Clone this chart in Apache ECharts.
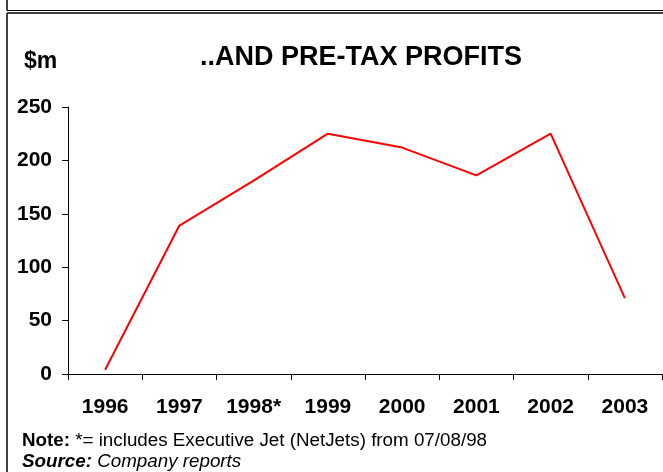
<!DOCTYPE html>
<html lang="en">
<head>
    <meta charset="UTF-8">
    <title>pre-tax profits</title>
    <script type="text/javascript" src="https://cdn.jsdelivr.net/npm/echarts@6/dist/echarts.min.js"></script>
    <style>
        html, body { margin: 0; padding: 0; background: #fff; }
    </style>
</head>
<body>
    <div id="main" style="width: 663px; height: 472px;"></div>
    <script type="text/javascript">
        // chart data ($m)
        var years = ['1996', '1997', '1998*', '1999', '2000', '2001', '2002', '2003'];
        var profits = [4, 139, 181, 225, 212, 186, 225, 71];
        var yTicks = [0, 50, 100, 150, 200, 250];

        var font = 'Liberation Sans, Arial, sans-serif';

        var myChart = echarts.init(document.getElementById('main'));

        myChart.setOption({
            animation: false,
            backgroundColor: '#fff',
            title: {
                text: '..AND PRE-TAX PROFITS',
                left: 361,
                textAlign: 'center',
                top: 39,
                textStyle: {
                    fontFamily: font,
                    fontWeight: 'bold',
                    fontSize: 27,
                    color: '#000'
                }
            },
            grid: {
                left: 68,
                right: 1,
                top: 107,
                bottom: 98,
                containLabel: false
            },
            xAxis: {
                type: 'category',
                data: years,
                boundaryGap: true,
                axisLine: { lineStyle: { color: '#000', width: 1 } },
                axisTick: { show: true, length: 6, lineStyle: { color: '#000' } },
                axisLabel: {
                    margin: 23,
                    fontFamily: font,
                    fontWeight: 'bold',
                    fontSize: 21,
                    color: '#000'
                }
            },
            yAxis: {
                type: 'value',
                min: yTicks[0],
                max: yTicks[yTicks.length - 1],
                interval: yTicks[1] - yTicks[0],
                splitLine: { show: false },
                axisLine: { show: true, lineStyle: { color: '#000', width: 1 } },
                axisTick: { show: true, length: 6, lineStyle: { color: '#000' } },
                axisLabel: {
                    margin: 16,
                    fontFamily: font,
                    fontWeight: 'bold',
                    fontSize: 21,
                    color: '#000'
                }
            },
            series: [{
                name: 'Pre-tax profits',
                type: 'line',
                data: profits,
                showSymbol: false,
                symbol: 'none',
                lineStyle: { color: '#ff0000', width: 2 }
            }],
            graphic: [
                // frame lines
                { type: 'line', shape: { x1: 7, y1: 0, x2: 7, y2: 10.5 }, style: { stroke: '#000', lineWidth: 1.5 } },
                { type: 'line', shape: { x1: 7, y1: 10.5, x2: 663, y2: 10.5 }, style: { stroke: '#000', lineWidth: 1.2 } },
                { type: 'line', shape: { x1: 7, y1: 13, x2: 663, y2: 13 }, style: { stroke: '#000', lineWidth: 1.5 } },
                { type: 'line', shape: { x1: 7, y1: 13, x2: 7, y2: 472 }, style: { stroke: '#000', lineWidth: 1.5 } },
                {
                    type: 'text', left: 24, top: 50,
                    style: { text: '$m', fontFamily: font, fontWeight: 'bold', fontSize: 23, fill: '#000' }
                },
                {
                    type: 'text', left: 22, top: 431,
                    style: {
                        text: '{b|Note:} *= includes Executive Jet (NetJets) from 07/08/98',
                        fontFamily: font, fontSize: 18.8, fill: '#000',
                        rich: { b: { fontFamily: font, fontWeight: 'bold', fontSize: 18.8 } }
                    }
                },
                {
                    type: 'text', left: 22, top: 452,
                    style: {
                        text: '{b|Source:} Company reports',
                        fontFamily: font, fontSize: 18.8, fontStyle: 'italic', fill: '#000',
                        rich: { b: { fontFamily: font, fontWeight: 'bold', fontStyle: 'italic', fontSize: 18.8 } }
                    }
                }
            ]
        });
        // nudge the title so its left edge sits where the reference puts it
        myChart.setOption({ title: { left: 356 } });
    </script>
</body>
</html>
